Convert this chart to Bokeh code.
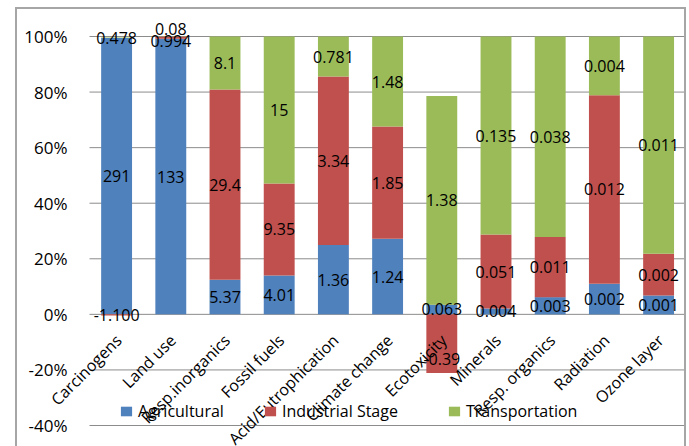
import math
from bokeh.plotting import figure
from bokeh.models import (ColumnDataSource, Range1d, FixedTicker,
                          Legend, LegendItem, Label)
from bokeh.embed import file_html
from bokeh.resources import INLINE

categories = ["Carcinogens", "Land use", "Resp.inorganics", "Fossil fuels",
              "Acid/Eutrophication", "Climate change", "Ecotoxicity", "Minerals",
              "Resp. organics", "Radiation", "Ozone layer"]
series = ["Agricultural", "Industrial Stage", "Transportation"]

# stacked percentage shares
agri_pct = [99.45, 99.2, 12.5, 14.0, 25.0, 27.2, 3.5, 2.1, 6.2, 11.0, 6.8]
ind_pct = [-0.38, 0.74, 68.4, 33.1, 60.6, 40.4, -21.1, 26.6, 21.6, 67.9, 15.0]
trans_pct = [0.17, 0.06, 19.1, 52.9, 14.4, 32.4, 75.1, 71.3, 72.2, 21.1, 78.2]

# data labels (raw values)
agri_lbl = ["291", "133", "5.37", "4.01", "1.36", "1.24", "0.063", "0.004", "0.003", "0.002", "0.001"]
ind_lbl = ["-1.100", "0.994", "29.4", "9.35", "3.34", "1.85", "-0.39", "0.051", "0.011", "0.012", "0.002"]
trans_lbl = ["0.478", "0.08", "8.1", "15", "0.781", "1.48", "1.38", "0.135", "0.038", "0.004", "0.011"]

y_ticks = [-40, -20, 0, 20, 40, 60, 80, 100]

colors = ["#4F81BD", "#C0504D", "#9BBB59"]
# label nudges in pixels (style only): (series index, category index) -> dy (up positive)
nudges = {(1, 1): -3, (2, 1): 8, (1, 6): -15}

FONT = "Open Sans"

# ---- layout geometry (pixels) ----
CANVAS_W, CANVAS_H = 667, 437          # canvas placed at (17, 9) in the page
PLOT_LEFT, PLOT_TOP, PLOT_BOTTOM = 72, 27, 416   # plot area inside canvas
CAT_W = 54.2                            # pixels per category
n = len(categories)
px_per_unit = (PLOT_BOTTOM - PLOT_TOP) / (y_ticks[-1] - y_ticks[0])
x_start = -PLOT_LEFT / CAT_W
x_end = x_start + CANVAS_W / CAT_W
y_top = y_ticks[-1] + PLOT_TOP / px_per_unit
y_bot = y_ticks[0] - (CANVAS_H - PLOT_BOTTOM) / px_per_unit

# category index positions (centre of each category slot)
xpos = {c: i + 0.5 for i, c in enumerate(categories)}

p = figure(width=CANVAS_W, height=CANVAS_H,
           x_range=Range1d(x_start, x_end), y_range=Range1d(y_bot, y_top),
           output_backend="svg", toolbar_location=None,
           min_border_left=0, min_border_right=0, min_border_top=0,
           min_border_bottom=0)
p.margin = (9, 0, 0, 17)
p.styles = {"outline": "2px solid #a6a6a6"}
p.outline_line_color = None
p.background_fill_color = "white"
p.border_fill_color = "white"
p.xgrid.visible = False
p.ygrid.visible = False
p.xaxis.visible = False

# gridlines across the plot area only
p.segment(x0=[0] * len(y_ticks), x1=[n] * len(y_ticks), y0=y_ticks, y1=y_ticks,
          line_color="#8c8c8c", line_width=1)

pos = [0.0] * n
neg = [0.0] * n
renderers = []
labels = []
for si, (pcts, lbls) in enumerate(zip([agri_pct, ind_pct, trans_pct],
                                      [agri_lbl, ind_lbl, trans_lbl])):
    bottoms, tops = [], []
    for i, v in enumerate(pcts):
        if v >= 0:
            b, t = pos[i], pos[i] + v
            pos[i] = t
        else:
            b, t = neg[i] + v, neg[i]
            neg[i] = b
        bottoms.append(b)
        tops.append(t)
        labels.append((categories[i], (b + t) / 2, lbls[i], nudges.get((si, i), 0)))
    src = ColumnDataSource(dict(x=[xpos[c] for c in categories], bottom=bottoms, top=tops))
    r = p.vbar(x="x", bottom="bottom", top="top", width=0.57, source=src,
               fill_color=colors[si], line_color=None)
    renderers.append(r)

# y axis drawn at the plot area's left edge
ya = p.yaxis[0]
ya.fixed_location = 0
ya.ticker = FixedTicker(ticks=y_ticks)
ya.major_label_overrides = {t: f"{t}%" for t in y_ticks}
ya.axis_line_color = None
ya.major_tick_line_color = None
ya.minor_tick_line_color = None
ya.major_tick_out = 0
ya.major_tick_in = 0
ya.major_label_standoff = 22
ya.major_label_text_font = FONT
ya.major_label_text_font_size = "17px"
ya.major_label_text_color = "black"

# category labels on the zero line (category axis crosses at 0)
for c in categories:
    p.add_layout(Label(x=xpos[c], y=0, text=c, angle=math.pi / 4,
                       x_offset=2, y_offset=-23,
                       text_align="right", text_baseline="middle",
                       text_font=FONT, text_font_size="16px", text_color="black"))

# data labels
for (cx, cy, txt, dy) in labels:
    p.add_layout(Label(x=xpos[cx], y=cy, text=txt, y_offset=dy,
                       text_align="center", text_baseline="middle",
                       text_font=FONT, text_font_size="16px", text_color="black"))

# legend: one box per entry (positions relative to plot frame bottom-left)
leg_x = [102, 246, 430]
for si, r in enumerate(renderers):
    leg = Legend(items=[LegendItem(label=series[si], renderers=[r])],
                 location=(leg_x[si], 24), orientation="horizontal",
                 glyph_width=14, glyph_height=12, label_standoff=5,
                 padding=0, margin=0, spacing=0,
                 label_text_font=FONT, label_text_font_size="16px",
                 label_text_color="black",
                 background_fill_alpha=0, border_line_alpha=0)
    p.add_layout(leg, "center")

open("out.html", "w").write(file_html(p, INLINE))
